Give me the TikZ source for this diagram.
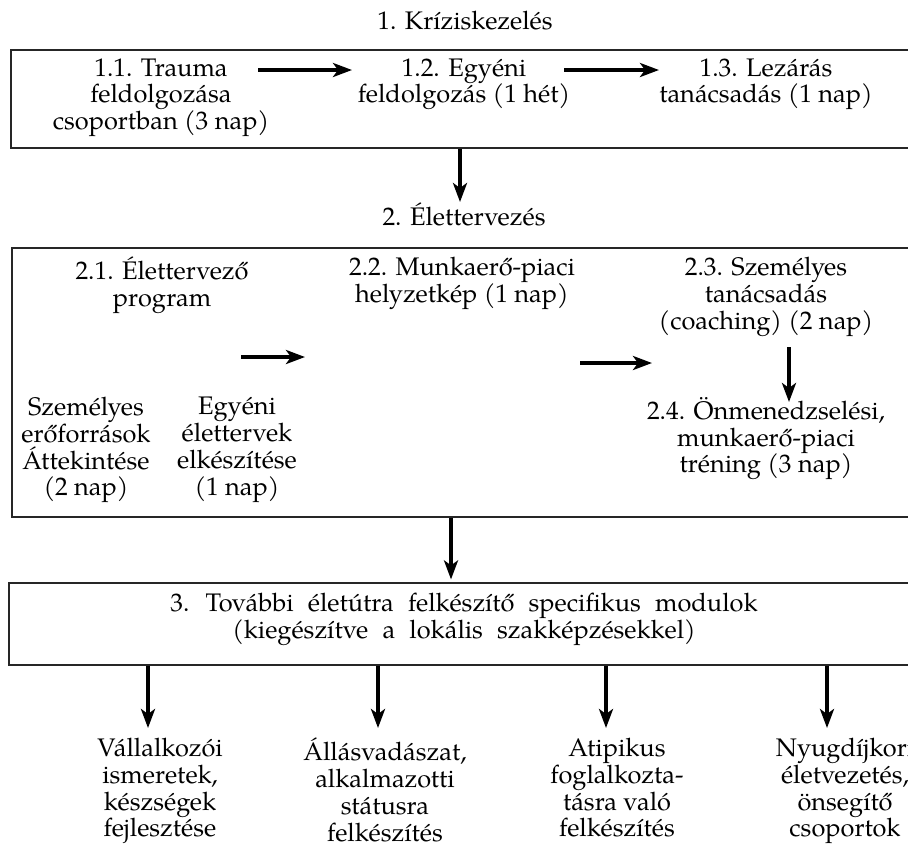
\documentclass[tikz,border=0pt]{standalone}
\usepackage{fontspec}
\setmainfont{TeX Gyre Pagella}
\newfontfamily\widefont[WordSpace=2.24]{TeX Gyre Pagella}
\usetikzlibrary{arrows.meta,calc}
\tikzstyle{frame}=[draw=black!85,line width=0.6pt,inner sep=0pt]
\tikzstyle{txt}=[align=center,inner sep=0pt,anchor=north,font=\fontsize{12.7}{13.35}\selectfont,
  execute at begin node={\rule{0pt}{12.5pt}}]
\tikzstyle{widetxt}=[txt,font=\widefont\fontsize{12.7}{13.35}\selectfont]
\tikzstyle{arr}=[line width=1.8pt,-{Stealth[length=9.5pt,width=7pt,inset=2.5pt]}]

\begin{document}
\begin{tikzpicture}[x=0.5pt,y=-0.5pt]
\useasboundingbox (0,0) rectangle (908,848);
\clip (0,0) rectangle (908,848);
\node[frame,minimum width=454.5pt,minimum height=49pt] (Box1) at (465.5,99) {};
\node[frame,minimum width=454pt,minimum height=134.5pt] (Box2) at (466,382.5) {};
\node[frame,minimum width=455.5pt,minimum height=41pt] (Box3) at (464.5,624) {};
\node[txt] (H1) at (465,4) {1. Kríziskezelés};
\node[txt] (T11) at (161,58) {1.1. Trauma\\feldolgozása\\csoportban (3 nap)};
\node[txt] (T12) at (464,58) {1.2. Egyéni\\feldolgozás (1 hét)};
\node[txt] (T13) at (766,58) {1.3. Lezárás\\tanácsadás (1 nap)};
\node[txt] (H2) at (464,200) {2. Élettervezés};
\node[txt] (T21) at (162,257) {2.1. Élettervező\\program};
\node[txt] (T22) at (462,257) {2.2. Munkaerő-piaci\\helyzetkép (1 nap)};
\node[txt] (T23) at (766,257) {2.3. Személyes\\tanácsadás\\(coaching) (2 nap)};
\node[txt] (T24) at (766,397) {2.4. Önmenedzselési,\\munkaerő-piaci\\tréning (3 nap)};
\node[txt] (T21a) at (86,397) {Személyes\\erőforrások\\Áttekintése\\(2 nap)};
\node[txt] (T21b) at (237,397) {Egyéni\\élettervek\\elkészítése\\(1 nap)};
\node[widetxt] (T3) at (464,593) {3. További életútra felkészítő specifikus modulok\\(kiegészítve a lokális szakképzésekkel)};
\node[txt] (M1) at (160,738) {Vállalkozói\\ismeretek,\\készségek\\fejlesztése};
\node[txt] (M2) at (385,738) {Állásvadászat,\\alkalmazotti\\státusra\\felkészítés};
\node[txt] (M3) at (617,738) {Atipikus\\foglalkozta-\\tásra való\\felkészítés};
\node[txt] (M4) at (845,738) {Nyugdíjkori\\életvezetés,\\önsegítő\\csoportok};
% crisis row
\draw[arr] ($(T11.north)+(97,12)$) -- ($(T12.north)+(-112,12)$);
\draw[arr] ($(T12.north)+(100,12)$) -- ($(T13.north)+(-107,12)$);
\draw[arr] ($(Box1.south)+(-5.5,0)$) -- ($(H2.north)+(-4,2)$);
% life planning row
\draw[arr] ($(T21.north)+(79,100)$) -- ($(T22.north)+(-157,100)$);
\draw[arr] ($(T22.north)+(118,106)$) -- ($(T23.north)+(-114,106)$);
\draw[arr] ($(T23.north)+(23,90)$) -- ($(T24.north)+(23,5)$);
\draw[arr] ($(Box2.south)+(-15,0)$) -- ($(Box3.north)+(-13.5,-3)$);
% modules
\draw[arr] ($(Box3.south -| M1)+(-12,0)$) -- ($(M1.north)+(-12,-10)$);
\draw[arr] ($(Box3.south -| M2)+(-7,0)$) -- ($(M2.north)+(-7,-10)$);
\draw[arr] ($(Box3.south -| M3)+(-11,0)$) -- ($(M3.north)+(-11,-10)$);
\draw[arr] ($(Box3.south -| M4)+(-18,0)$) -- ($(M4.north)+(-18,-10)$);
\end{tikzpicture}
\end{document}
